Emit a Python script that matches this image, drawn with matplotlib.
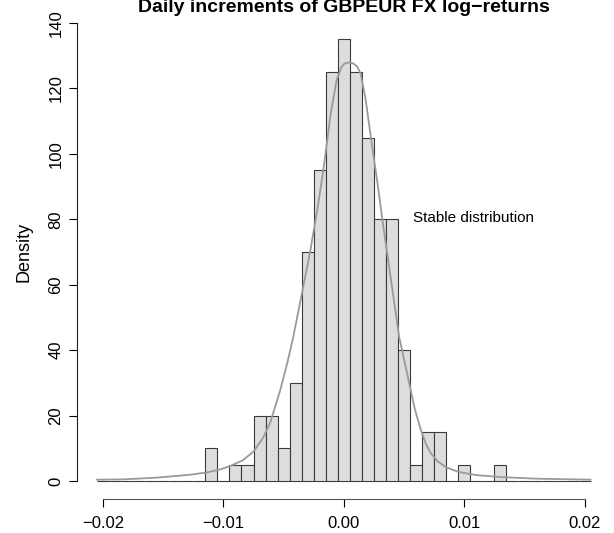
import numpy as np
import matplotlib
matplotlib.use('Agg')
import matplotlib.pyplot as plt

plt.rcParams['font.family'] = ['Liberation Sans', 'DejaVu Sans']

# histogram: bins of width 0.001 centred on -0.020 ... 0.020
bin_centers = np.round(np.arange(-0.020, 0.0205, 0.001), 4)
densities = [0, 0, 0, 0, 0, 0, 0, 0, 0,
             10, 0, 5, 5, 20, 20, 10, 30, 70, 95, 125,
             135,
             125, 105, 80, 80, 40, 5, 15, 15, 0, 5, 0, 0, 5,
             0, 0, 0, 0, 0, 0, 0]

# fitted stable density
curve_x = [-0.0205, -0.0183, -0.0156, -0.0128, -0.0114, -0.0102, -0.0093,
           -0.0084, -0.0075, -0.0067, -0.0061, -0.0053, -0.0047, -0.0042,
           -0.0035, -0.0028, -0.0022, -0.0017, -0.0011, -0.0006, -0.0002,
           0.00005, 0.00045, 0.0008, 0.0011, 0.0014, 0.0018, 0.00225, 0.0028,
           0.0032, 0.0039, 0.0046, 0.0054, 0.0059, 0.0064, 0.0068, 0.0072,
           0.0078, 0.0085, 0.0095, 0.011, 0.013, 0.016, 0.0205]
curve_y = [0.4, 0.5, 1.0, 1.9, 2.6, 3.6, 4.8,
           6.3, 9.0, 13.2, 18.0, 27.5, 36.0, 44.0,
           57.0, 70.0, 83.0, 95.0, 112.0, 122.5, 126.5,
           127.6, 128.0, 127.6, 126.8, 124.5, 117.0, 105.0, 91.0,
           80.0, 62.0, 44.0, 30.5, 22.0, 15.6, 11.5, 8.6,
           6.0, 4.2, 2.8, 1.8, 1.2, 0.7, 0.4]

x_ticks = [-0.02, -0.01, 0.0, 0.01, 0.02]
x_labels = ['\u22120.02', '\u22120.01', '0.00', '0.01', '0.02']
y_ticks = [0, 20, 40, 60, 80, 100, 120, 140]

W, H = 614, 533
fig = plt.figure(figsize=(W / 100, H / 100), dpi=100)
ax = fig.add_axes([77.3 / W, (H - 499.3) / H, (610.3 - 77.3) / W, (499.3 - 4.7) / H])

ax.bar(bin_centers, densities, width=0.001, color='#dcdedd',
       edgecolor='#3a3a3a', linewidth=0.8)
ax.plot(curve_x, curve_y, color='#9a9a9a', linewidth=1.3)

ax.text(0.0108, 80.5, 'Stable distribution', ha='center', va='center', fontsize=11)

ax.set_xlim(-0.02214, 0.02214)
ax.set_ylim(-5.6, 145.6)

for s in ['top', 'right']:
    ax.spines[s].set_visible(False)
ax.spines['left'].set_bounds(0, 140)
ax.spines['bottom'].set_bounds(-0.02, 0.02)
ax.spines['left'].set_color('#222222')
ax.spines['bottom'].set_color('#555555')

ax.set_xticks(x_ticks)
ax.set_xticklabels(x_labels)
ax.set_yticks(y_ticks)
ax.tick_params(axis='both', direction='out', length=6, width=0.8, labelsize=12)
ax.tick_params(axis='x', pad=6)
ax.tick_params(axis='y', pad=4)
plt.setp(ax.get_yticklabels(), rotation=90, va='center')

ax.set_ylabel('Density', fontsize=13, va='center')
ax.yaxis.set_label_coords((24 - 77.3) / (610.3 - 77.3), 0.5)

fig.text(343.8 / W, 1 - 12 / H, 'Daily increments of GBPEUR FX log\u2212returns',
         ha='center', va='baseline', fontsize=14, fontweight='bold')

fig.savefig('out.png', dpi=100)
